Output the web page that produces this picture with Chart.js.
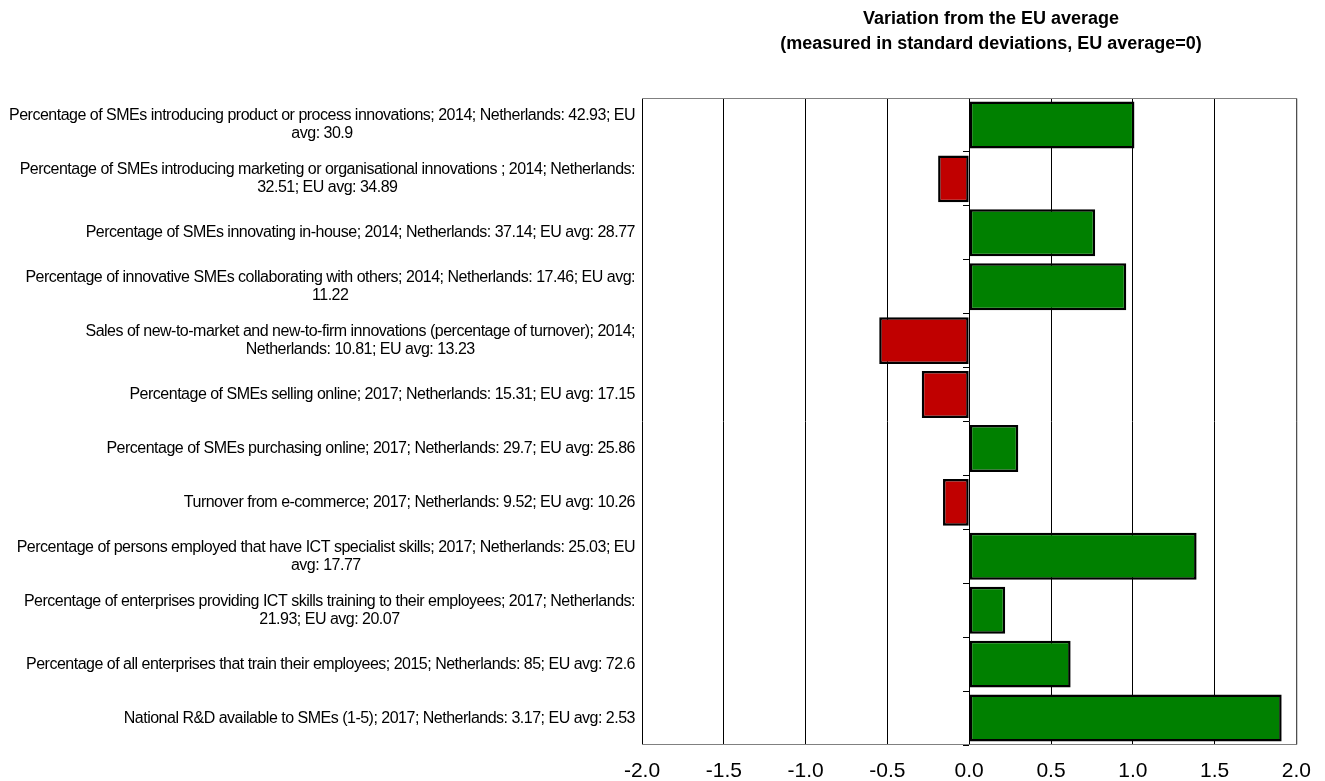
<!DOCTYPE html>
<html>
<head>
<meta charset="utf-8">
<title>Variation from the EU average</title>
<script src="https://cdn.jsdelivr.net/npm/chart.js@4.4.1/dist/chart.umd.min.js"></script>
<style>
  html, body { margin: 0; padding: 0; background: #ffffff; }
  #wrap { width: 1325px; height: 781px; position: relative; }
</style>
</head>
<body>
<div id="wrap"><canvas id="chart" width="1325" height="781"></canvas></div>
<script>
// Indicator names, one array of wrapped lines per bar (top to bottom)
const categories = [
  ["Percentage of SMEs introducing product or process innovations; 2014; Netherlands: 42.93; EU", "avg: 30.9"],
  ["Percentage of SMEs introducing marketing or organisational innovations ; 2014; Netherlands:", "32.51; EU avg: 34.89"],
  ["Percentage of SMEs innovating in-house; 2014; Netherlands: 37.14; EU avg: 28.77"],
  ["Percentage of innovative SMEs collaborating with others; 2014; Netherlands: 17.46; EU avg:", "11.22"],
  ["Sales of new-to-market and new-to-firm innovations (percentage of turnover); 2014;", "Netherlands: 10.81; EU avg: 13.23"],
  ["Percentage of SMEs selling online; 2017; Netherlands: 15.31; EU avg: 17.15"],
  ["Percentage of SMEs purchasing online; 2017; Netherlands: 29.7; EU avg: 25.86"],
  ["Turnover from e-commerce; 2017; Netherlands: 9.52; EU avg: 10.26"],
  ["Percentage of persons employed that have ICT specialist skills; 2017; Netherlands: 25.03; EU", "avg: 17.77"],
  ["Percentage of enterprises providing ICT skills training to their employees; 2017; Netherlands:", "21.93; EU avg: 20.07"],
  ["Percentage of all enterprises that train their employees; 2015; Netherlands: 85; EU avg: 72.6"],
  ["National R&D available to SMEs (1-5); 2017; Netherlands: 3.17; EU avg: 2.53"]
];

// Distance from the EU average, in standard deviations
const deviations = [1.01, -0.19, 0.77, 0.96, -0.55, -0.29, 0.30, -0.16, 1.39, 0.22, 0.62, 1.91];

// Value axis tick values
const xTicks = [-2.0, -1.5, -1.0, -0.5, 0.0, 0.5, 1.0, 1.5, 2.0];

const titleLines = [
  "Variation from the EU average",
  "(measured in standard deviations, EU average=0)"
];

const GREEN = '#008000';
const RED = '#C00000';

// Chart title, two bold centred lines above the plot
const titlePlugin = {
  id: 'twoLineTitle',
  afterDraw(chart) {
    const ctx = chart.ctx;
    ctx.save();
    ctx.fillStyle = '#000';
    ctx.font = 'bold 18px "Liberation Sans", Arial, sans-serif';
    ctx.textAlign = 'center';
    ctx.textBaseline = 'alphabetic';
    ctx.fillText(titleLines[0], 991, 24);
    ctx.fillText(titleLines[1], 991, 49);
    ctx.restore();
  }
};

// Category names left of the plot: each block right-aligned, its lines centred
const categoryLabelPlugin = {
  id: 'categoryLabels',
  afterDraw(chart) {
    const ctx = chart.ctx;
    const yScale = chart.scales.y;
    const right = chart.chartArea.left - 7;
    const lineH = 18;
    ctx.save();
    ctx.fillStyle = '#000';
    ctx.font = '16px "Liberation Sans", Arial, sans-serif';
    ctx.letterSpacing = '-0.5px';
    ctx.textAlign = 'center';
    ctx.textBaseline = 'alphabetic';
    categories.forEach((lines, i) => {
      const cy = yScale.getPixelForValue(i);
      const widest = Math.max(...lines.map(l => ctx.measureText(l).width));
      const cx = right - widest / 2;
      const top = cy - (lines.length - 1) * lineH / 2;
      lines.forEach((line, k) => {
        ctx.fillText(line, cx, top + k * lineH + 4.5);
      });
    });
    ctx.restore();
  }
};

// Grey frame on the top, right and bottom edges of the plot
const framePlugin = {
  id: 'plotFrame',
  beforeDatasetsDraw(chart) {
    const { left, right, top, bottom } = chart.chartArea;
    const ctx = chart.ctx;
    ctx.save();
    ctx.strokeStyle = '#808080';
    ctx.lineWidth = 1;
    ctx.beginPath();
    ctx.moveTo(left, top + 0.5);
    ctx.lineTo(right + 0.5, top + 0.5);
    ctx.lineTo(right + 0.5, bottom - 0.5);
    ctx.lineTo(left, bottom - 0.5);
    ctx.stroke();
    ctx.restore();
  }
};

new Chart(document.getElementById('chart'), {
  type: 'bar',
  data: {
    labels: categories.map(l => l.join(' ')),
    datasets: [{
      data: deviations,
      backgroundColor: deviations.map(v => v >= 0 ? GREEN : RED),
      borderColor: '#000000',
      borderWidth: 2.5,
      borderSkipped: false,
      barPercentage: 0.87,
      categoryPercentage: 1.0
    }]
  },
  options: {
    indexAxis: 'y',
    responsive: false,
    animation: false,
    devicePixelRatio: 1,
    layout: { padding: { left: 642, top: 98, right: 28, bottom: 0 } },
    plugins: {
      legend: { display: false },
      title: { display: false },
      tooltip: { enabled: false }
    },
    scales: {
      x: {
        type: 'linear',
        position: 'bottom',
        min: -2,
        max: 2,
        afterBuildTicks(scale) {
          scale.ticks = xTicks.map(v => ({ value: v }));
        },
        afterFit(scale) { scale.height = 36; },
        grid: {
          color: '#000000',
          lineWidth: 1,
          drawTicks: false
        },
        border: { display: false },
        ticks: {
          padding: 14,
          color: '#000000',
          font: { family: '"Liberation Sans", Arial, sans-serif', size: 21 },
          callback: v => Number(v).toFixed(1)
        }
      },
      y: {
        type: 'category',
        position: { x: 0 },
        grid: {
          drawOnChartArea: false,
          drawTicks: true,
          tickLength: 6,
          color: '#000000',
          lineWidth: 1
        },
        border: { display: false },
        ticks: { display: false }
      }
    }
  },
  plugins: [framePlugin, categoryLabelPlugin, titlePlugin]
});
</script>
</body>
</html>
